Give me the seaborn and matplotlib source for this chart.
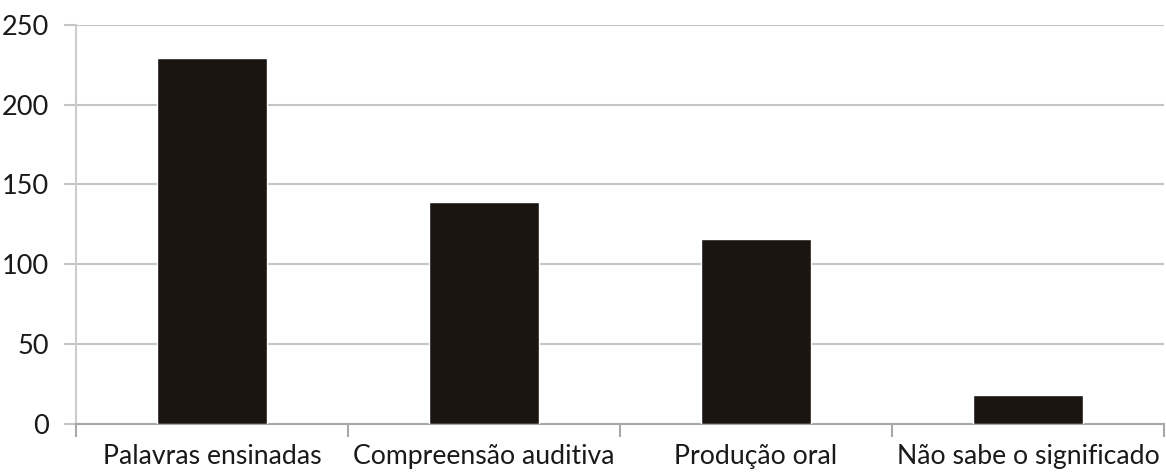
import matplotlib
matplotlib.use("Agg")
import matplotlib.pyplot as plt
from matplotlib.ticker import FixedLocator
import seaborn as sns
import pandas as pd

categories = ["Palavras ensinadas", "Compreensão auditiva", "Produção oral", "Não sabe o significado"]
values = [229, 139, 116, 18]
y_ticks = [0, 50, 100, 150, 200, 250]

sns.set_theme(style="white")
plt.rcParams["font.family"] = ["Lato", "DejaVu Sans"]

df = pd.DataFrame({"categoria": categories, "valor": values})

fig = plt.figure(figsize=(11.66, 4.73), dpi=100)
ax = fig.add_axes([76 / 1166, 49.5 / 473, 1088 / 1166, 398.5 / 473])

sns.barplot(data=df, x="categoria", y="valor", color="#1b1512", saturation=1,
            width=0.405, ax=ax, zorder=3)

ax.set_xlim(-0.5, 3.5)
ax.set_ylim(0, 250)
ax.set_yticks(y_ticks)
ax.yaxis.grid(True, color="#c4c4c4", linewidth=1.5, zorder=0)
ax.set_xlabel("")
ax.set_ylabel("")

for side in ["top", "right"]:
    ax.spines[side].set_visible(False)
ax.spines["left"].set_color("#cccccc")
ax.spines["left"].set_linewidth(1.5)
ax.spines["bottom"].set_color("#a8a8a8")
ax.spines["bottom"].set_linewidth(1.5)

text_color = "#1a1a1a"
ax.tick_params(axis="y", length=9, width=1.5, color="#c4c4c4", pad=10.5,
               labelsize=19.5, labelcolor=text_color, left=True)
ax.tick_params(axis="x", which="major", length=0, pad=14.5,
               labelsize=19.2, labelcolor=text_color)
ax.xaxis.set_minor_locator(FixedLocator([-0.5, 0.5, 1.5, 2.5, 3.5]))
ax.tick_params(axis="x", which="minor", bottom=True, length=9, width=1.5,
               color="#a8a8a8", direction="out")

fig.savefig("out.png", dpi=100, facecolor="white")
